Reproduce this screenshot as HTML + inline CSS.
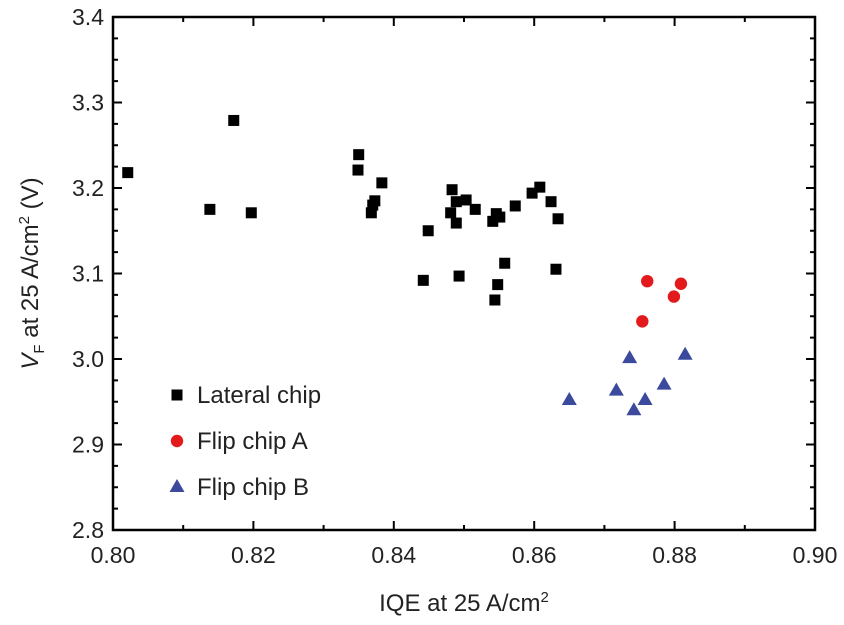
<!DOCTYPE html>
<html><head><meta charset="utf-8"><style>
body{margin:0;background:#fff;}
svg text{font-family:"Liberation Sans",Arial,sans-serif;fill:#222;}
</style></head><body>
<svg id="chart" width="844" height="620" viewBox="0 0 844 620" xmlns="http://www.w3.org/2000/svg"></svg>
<script>
const xTicks=[0.80,0.82,0.84,0.86,0.88,0.90];
const yTicks=[2.8,2.9,3.0,3.1,3.2,3.3,3.4];
const lateralX=[0.8021,0.8138,0.8172,0.8197,0.8349,0.8350,0.8368,0.8370,0.8373,0.8383,0.8442,0.8449,0.8481,0.8483,0.8489,0.8489,0.8493,0.8503,0.8516,0.8541,0.8544,0.8546,0.8548,0.8551,0.8558,0.8573,0.8597,0.8608,0.8624,0.8631,0.8634];
const lateralY=[3.218,3.175,3.279,3.171,3.221,3.239,3.171,3.180,3.185,3.206,3.092,3.150,3.171,3.198,3.184,3.159,3.097,3.186,3.175,3.161,3.069,3.170,3.087,3.166,3.112,3.179,3.194,3.201,3.184,3.105,3.164];
const flipAX=[0.8761,0.8754,0.8799,0.8809];
const flipAY=[3.091,3.044,3.073,3.088];
const flipBX=[0.8650,0.8717,0.8736,0.8742,0.8758,0.8785,0.8815];
const flipBY=[2.952,2.963,3.001,2.940,2.952,2.970,3.005];

const L=113,R=815,T=17,B=530;
const sx=v=>L+(v-0.80)/0.10*(R-L);
const sy=v=>B-(v-2.8)/0.6*(B-T);
const svg=document.getElementById('chart');
const NS='http://www.w3.org/2000/svg';
function mk(tag,attrs,parent){const e=document.createElementNS(NS,tag);for(const k in attrs)e.setAttribute(k,attrs[k]);(parent||svg).appendChild(e);return e;}

const frame=mk('rect',{x:L,y:T,width:R-L,height:B-T,fill:'none',stroke:'#000','stroke-width':2.5});



const ticks=mk('g',{stroke:'#000','stroke-width':2});


for(let i=0;i<=10;i++){const v=0.80+i*0.01;const x=sx(v);const len=i%2===0?9:5;
 mk('line',{x1:x,y1:B,x2:x,y2:B-len},ticks);mk('line',{x1:x,y1:T,x2:x,y2:T+len},ticks);}
for(let i=0;i<=24;i++){const v=2.8+i*0.025;const y=sy(v);const len=i%4===0?9:5;
 mk('line',{x1:L,y1:y,x2:L+len,y2:y},ticks);mk('line',{x1:R,y1:y,x2:R-len,y2:y},ticks);}

xTicks.forEach(v=>{const t=mk('text',{x:sx(v),y:563,'font-size':23,'text-anchor':'middle'});t.textContent=v.toFixed(2);
 
 });
yTicks.forEach(v=>{const t=mk('text',{x:L-9,y:sy(v)+8,'font-size':23,'text-anchor':'end'});t.textContent=v.toFixed(1);
 
 });

const xt=mk('text',{x:(L+R)/2,y:611,'font-size':24,'text-anchor':'middle'});
xt.innerHTML='IQE at 25 A/cm<tspan dy="-9" font-size="15">2</tspan>';


const yt=mk('text',{transform:'translate(38,'+((T+B)/2)+') rotate(-90)','font-size':24,'text-anchor':'middle'});
yt.innerHTML='<tspan font-style="italic">V</tspan><tspan dy="6" font-size="15">F</tspan><tspan dy="-6"> at 25 A/cm</tspan><tspan dy="-9" font-size="15">2</tspan><tspan dy="9"> (V)</tspan>';



function square(x,y,g){return mk('rect',{x:x-5.5,y:y-5.5,width:11,height:11,fill:'#000'},g);}
function circle(x,y,g){return mk('circle',{cx:x,cy:y,r:6.2,fill:'#e31a1c'},g);}
function tri(x,y,g){return mk('polygon',{points:`${x},${y-8} ${x+7.5},${y+5} ${x-7.5},${y+5}`,fill:'#3b4a9c'},g);}

const g1=mk('g',{});
lateralX.forEach((v,i)=>{const p=square(sx(v),sy(lateralY[i]),g1);
 
 });
const g2=mk('g',{});
flipAX.forEach((v,i)=>{const p=circle(sx(v),sy(flipAY[i]),g2);
 
 });
const g3=mk('g',{});
flipBX.forEach((v,i)=>{const p=tri(sx(v),sy(flipBY[i]),g3);
 
 });

const lg=mk('g',{});
const items=[['Lateral chip',square,395],['Flip chip A',circle,441],['Flip chip B',tri,487]];
items.forEach(it=>{const e=mk('g',{},lg);
 
 
 it[1](177,it[2],e);const t=mk('text',{x:197,y:it[2]+8,'font-size':24},e);t.textContent=it[0];});
</script>
</body></html>
